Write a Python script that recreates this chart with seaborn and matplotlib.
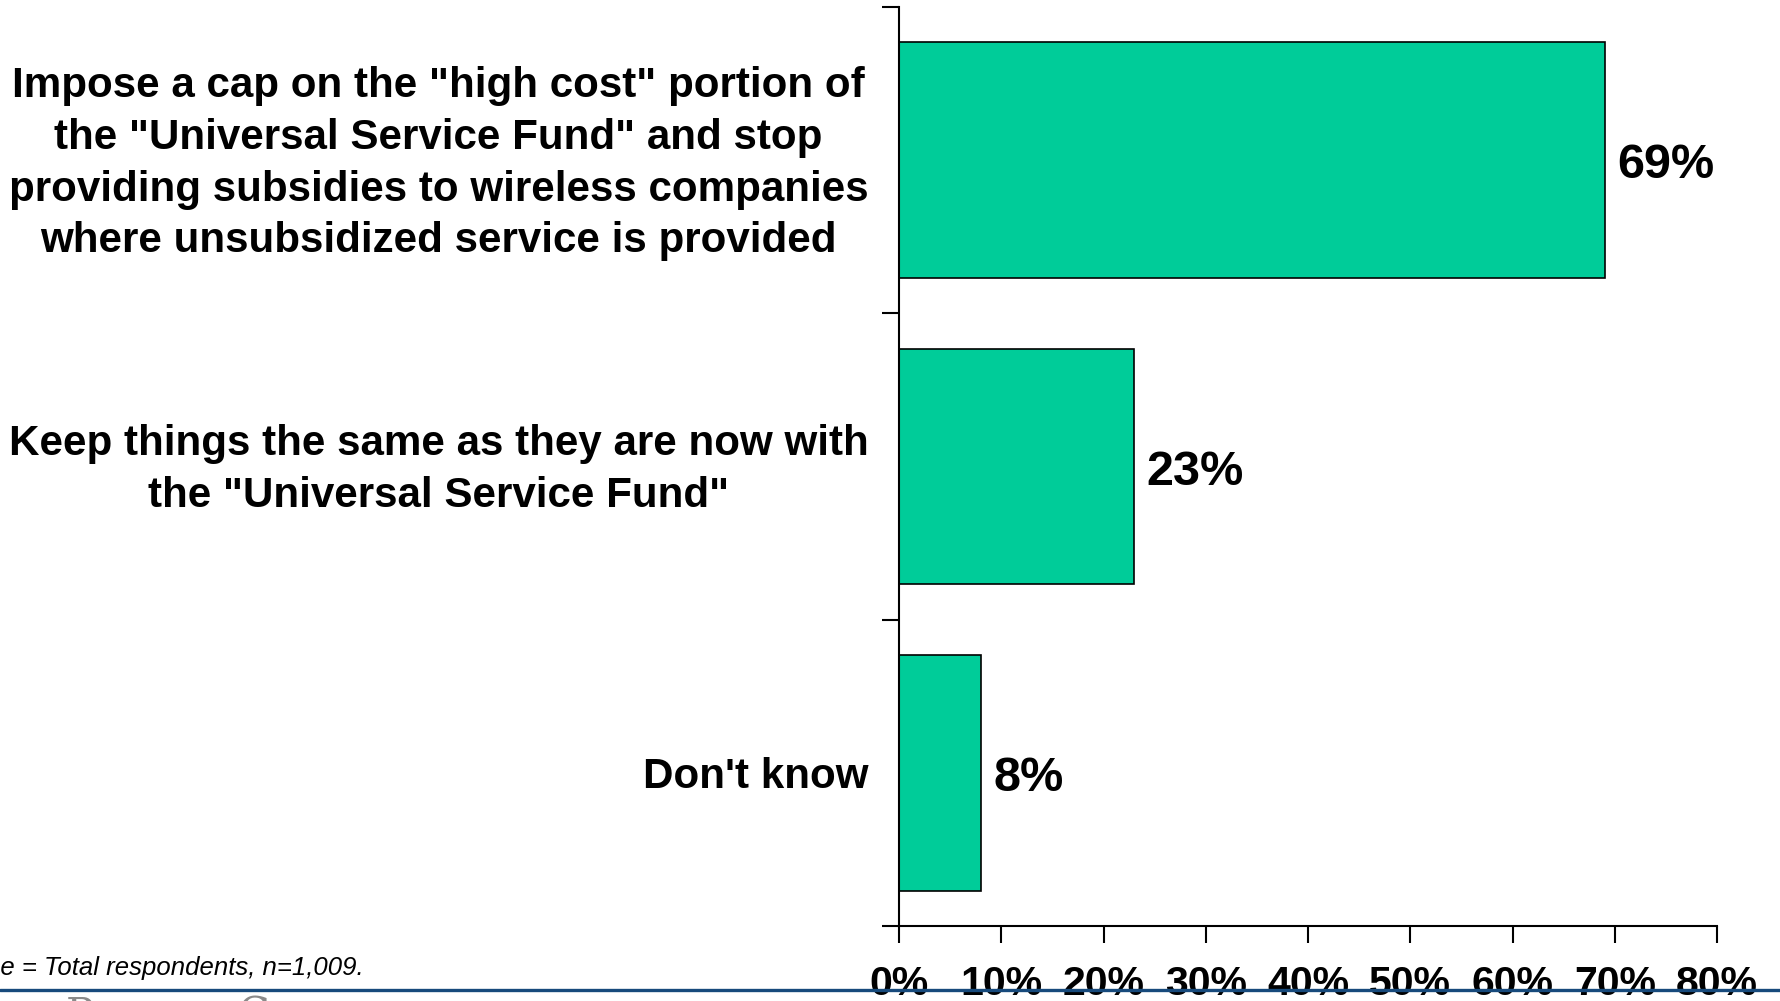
import matplotlib
matplotlib.use("Agg")
import matplotlib.pyplot as plt
import matplotlib.transforms as mtransforms
import seaborn as sns
import pandas as pd
from matplotlib.ticker import FixedLocator

# Survey responses (percent of respondents)
categories = [
    'Impose a cap on the "high cost" portion of\nthe "Universal Service Fund" and stop\nproviding subsidies to wireless companies\nwhere unsubsidized service is provided',
    'Keep things the same as they are now with\nthe "Universal Service Fund"',
    "Don't know",
]
values = [69, 23, 8]
x_ticks = [0, 10, 20, 30, 40, 50, 60, 70, 80]
x_tick_labels = [f"{t}%" for t in x_ticks]
base_note = "Base = Total respondents, n=1,009."

sns.set_style("white")
plt.rcParams["font.family"] = ["Liberation Sans", "DejaVu Sans"]
plt.rcParams["text.color"] = "black"
plt.rcParams["xtick.color"] = "black"
plt.rcParams["ytick.color"] = "black"
plt.rcParams["axes.labelcolor"] = "black"

df = pd.DataFrame({"answer": categories, "pct": values})

W, H = 1780, 1001
fig = plt.figure(figsize=(W / 100, H / 100), dpi=100)
ax = fig.add_axes([899 / W, 1 - 926 / H, (1717 - 899) / W, (926 - 7) / H])

sns.barplot(
    data=df, x="pct", y="answer", orient="h",
    color="#00CC99", saturation=1, width=0.77,
    edgecolor="black", linewidth=1.2, ax=ax,
)

ax.set_xlim(0, 80)
ax.set_ylim(2.5, -0.5)
ax.set_xlabel("")
ax.set_ylabel("")

# value labels just past the bar ends
for i, v in enumerate(values):
    ax.annotate(f"{v}%", xy=(v, i), xytext=(9, -4), textcoords="offset points",
                ha="left", va="center", fontsize=35, fontweight="bold",
                color="black")

# x axis
ax.set_xticks(x_ticks)
ax.set_xticklabels(x_tick_labels, fontsize=29.5, fontweight="bold", color="black")
ax.tick_params(axis="x", which="major", direction="out", length=12, width=1.5,
               color="black", pad=16, bottom=True)

# y axis: labels at category centres, tick marks between categories
ax.tick_params(axis="y", which="major", length=0, pad=22)
ax.yaxis.set_minor_locator(FixedLocator([-0.5, 0.5, 1.5, 2.5]))
ax.tick_params(axis="y", which="minor", direction="out", length=12, width=1.5,
               color="black", left=True)
lift = mtransforms.ScaledTranslation(0, 5 / 72, fig.dpi_scale_trans)
for tick in ax.yaxis.get_major_ticks():
    lab = tick.label1
    lab.set_fontsize(30.3)
    lab.set_fontweight("bold")
    lab.set_color("black")
    lab.set_multialignment("center")
    lab.set_linespacing(1.38)
    if "\n" in lab.get_text():
        lab.set_transform(lab.get_transform() + lift)

for side in ("top", "right"):
    ax.spines[side].set_visible(False)
for side in ("left", "bottom"):
    ax.spines[side].set_color("black")
    ax.spines[side].set_linewidth(1.5)

# footnote and footer rule
fig.text(-44 / W, 1 - 975 / H, base_note, fontsize=18.5, style="italic",
         ha="left", va="baseline", color="black")
fig.add_artist(plt.Line2D([0, 1], [1 - 990 / H, 1 - 990 / H],
                          transform=fig.transFigure, color="#174a7c",
                          linewidth=2.4, zorder=10))
fig.text(66 / W, 1 - 995 / H, "P", fontsize=30, family="DejaVu Serif",
         color="#8a8a8a", ha="left", va="top")
fig.text(238 / W, 1 - 995 / H, "C", fontsize=30, family="DejaVu Serif",
         color="#8a8a8a", ha="left", va="top")

fig.savefig("out.png", dpi=100)
